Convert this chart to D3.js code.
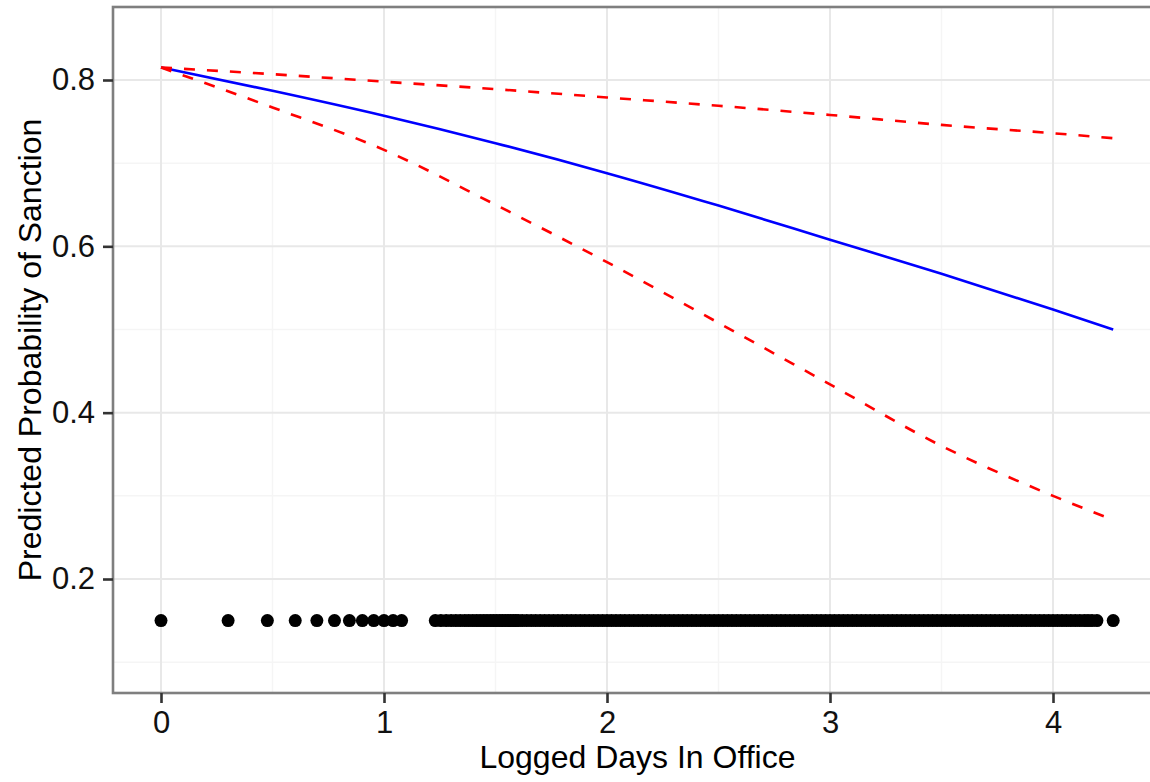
<!DOCTYPE html>
<html>
<head>
<meta charset="utf-8">
<script src="https://cdn.jsdelivr.net/npm/d3@7"></script>
<style>
  html, body { margin: 0; padding: 0; background: #fff; }
  svg { display: block; }
  text { font-family: "Liberation Sans", Arial, Helvetica, sans-serif; }
</style>
</head>
<body>
<svg id="chart" width="1150" height="782"></svg>
<script>
// ---- data ----
const fitX = [0, 0.5, 1, 1.5, 2, 2.5, 3, 3.5, 4, 4.27];
const fitMean = [0.815, 0.787, 0.757, 0.724, 0.688, 0.649, 0.608, 0.567, 0.524, 0.500];
const fitUpper = [0.815, 0.807, 0.798, 0.789, 0.779, 0.769, 0.758, 0.746, 0.736, 0.730];
const fitLower = [0.815, 0.767, 0.716, 0.650, 0.581, 0.508, 0.434, 0.360, 0.300, 0.271];
const rugLevel = 0.15;
const rugX = [
  0, 0.301, 0.477, 0.602, 0.699, 0.778, 0.845, 0.903, 0.954, 1.0, 1.041, 1.079,
  1.230, 1.255, 1.279, 1.301, 1.322, 1.342, 1.362, 1.380, 1.398, 1.415, 1.431, 1.447,
  1.462, 1.477, 1.491, 1.505, 1.519, 1.531, 1.544, 1.556, 1.568, 1.580, 1.591, 1.602,
  1.62, 1.64, 1.66, 1.68, 1.70, 1.72, 1.74, 1.76, 1.78, 1.80, 1.82, 1.84, 1.86, 1.88,
  1.90, 1.92, 1.94, 1.96, 1.98, 2.00, 2.02, 2.04, 2.06, 2.08, 2.10, 2.12, 2.14, 2.16,
  2.18, 2.20, 2.22, 2.24, 2.26, 2.28, 2.30, 2.32, 2.34, 2.36, 2.38, 2.40, 2.42, 2.44,
  2.46, 2.48, 2.50, 2.52, 2.54, 2.56, 2.58, 2.60, 2.62, 2.64, 2.66, 2.68, 2.70, 2.72,
  2.74, 2.76, 2.78, 2.80, 2.82, 2.84, 2.86, 2.88, 2.90, 2.92, 2.94, 2.96, 2.98, 3.00,
  3.02, 3.04, 3.06, 3.08, 3.10, 3.12, 3.14, 3.16, 3.18, 3.20, 3.22, 3.24, 3.26, 3.28,
  3.30, 3.32, 3.34, 3.36, 3.38, 3.40, 3.42, 3.44, 3.46, 3.48, 3.50, 3.52, 3.54, 3.56,
  3.58, 3.60, 3.62, 3.64, 3.66, 3.68, 3.70, 3.72, 3.74, 3.76, 3.78, 3.80, 3.82, 3.84,
  3.86, 3.88, 3.90, 3.92, 3.94, 3.96, 3.98, 4.00, 4.02, 4.04, 4.06, 4.08, 4.10, 4.12,
  4.14, 4.157, 4.175, 4.197, 4.27
];
const xTicks = [0, 1, 2, 3, 4];
const xMinor = [0.5, 1.5, 2.5, 3.5];
const yTicks = [0.2, 0.4, 0.6, 0.8];
const yMinor = [0.1, 0.3, 0.5, 0.7];
const xTitle = "Logged Days In Office";
const yTitle = "Predicted Probability of Sanction";

// ---- layout ----
const svg = d3.select("#chart");
const x = d3.scaleLinear().domain([0, 4]).range([161, 1053]);
const y = d3.scaleLinear().domain([0.2, 0.8]).range([579, 80]);
const panel = { left: 113, right: 1162, top: 7, bottom: 693 };

// grid
const g = svg.append("g");
g.selectAll(".ymin").data(yMinor).join("line")
  .attr("x1", panel.left).attr("x2", panel.right)
  .attr("y1", d => y(d)).attr("y2", d => y(d))
  .attr("stroke", "#f5f5f5").attr("stroke-width", 1.5);
g.selectAll(".xmin").data(xMinor).join("line")
  .attr("y1", panel.top).attr("y2", panel.bottom)
  .attr("x1", d => x(d)).attr("x2", d => x(d))
  .attr("stroke", "#f5f5f5").attr("stroke-width", 1.5);
g.selectAll(".ymaj").data(yTicks).join("line")
  .attr("x1", panel.left).attr("x2", panel.right)
  .attr("y1", d => y(d)).attr("y2", d => y(d))
  .attr("stroke", "#e8e8e8").attr("stroke-width", 2);
g.selectAll(".xmaj").data(xTicks).join("line")
  .attr("y1", panel.top).attr("y2", panel.bottom)
  .attr("x1", d => x(d)).attr("x2", d => x(d))
  .attr("stroke", "#e8e8e8").attr("stroke-width", 2);

// lines
const pts = vals => fitX.map((v, i) => [v, vals[i]]);
const line = d3.line().x(d => x(d[0])).y(d => y(d[1])).curve(d3.curveMonotoneX);
svg.append("path").attr("d", line(pts(fitMean)))
  .attr("fill", "none").attr("stroke", "#0000ff").attr("stroke-width", 2.6);
[fitUpper, fitLower].forEach(v => {
  svg.append("path").attr("d", line(pts(v)))
    .attr("fill", "none").attr("stroke", "#ff0000").attr("stroke-width", 2.6)
    .attr("stroke-dasharray", "11,12");
});

// rug points
svg.append("g").selectAll("circle").data(rugX).join("circle")
  .attr("cx", d => x(d)).attr("cy", y(rugLevel)).attr("r", 6.5)
  .attr("fill", "#000");

// panel border
svg.append("rect")
  .attr("x", panel.left).attr("y", panel.top)
  .attr("width", panel.right - panel.left).attr("height", panel.bottom - panel.top)
  .attr("fill", "none").attr("stroke", "#7f7f7f").attr("stroke-width", 2.6);

// axes
const xAxis = d3.axisBottom(x).tickValues(xTicks).tickSize(10).tickPadding(8).tickFormat(d3.format("d"));
const xa = svg.append("g").attr("transform", `translate(0,${panel.bottom})`).call(xAxis);
xa.select(".domain").remove();
xa.selectAll(".tick line").attr("stroke", "#333").attr("stroke-width", 2.6);
xa.selectAll(".tick text").attr("font-size", 31).attr("fill", "#111")
  .attr("font-family", "Liberation Sans, Arial, sans-serif");

const yAxis = d3.axisLeft(y).tickValues(yTicks).tickSize(10).tickPadding(8).tickFormat(d3.format(".1f"));
const ya = svg.append("g").attr("transform", `translate(${panel.left},0)`).call(yAxis);
ya.select(".domain").remove();
ya.selectAll(".tick line").attr("stroke", "#333").attr("stroke-width", 2.6);
ya.selectAll(".tick text").attr("font-size", 31).attr("fill", "#111")
  .attr("font-family", "Liberation Sans, Arial, sans-serif");

// titles
svg.append("text").attr("x", (panel.left + panel.right) / 2).attr("y", 768)
  .attr("text-anchor", "middle").attr("font-size", 32).attr("fill", "#000").text(xTitle);
svg.append("text").attr("transform", `translate(41,${(panel.top + panel.bottom) / 2}) rotate(-90)`)
  .attr("text-anchor", "middle").attr("font-size", 32).attr("fill", "#000").text(yTitle);
</script>
</body>
</html>
